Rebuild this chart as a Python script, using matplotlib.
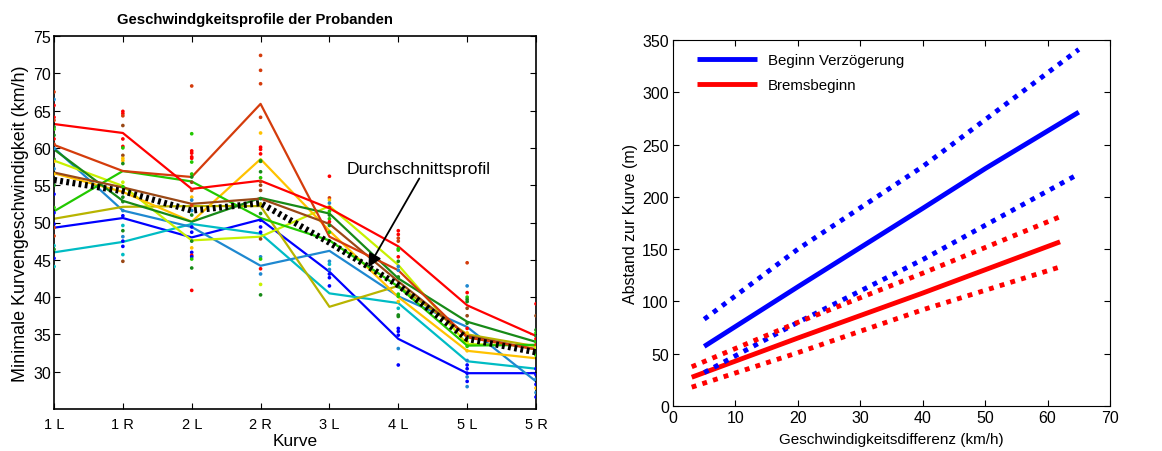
import matplotlib
matplotlib.use("Agg")
import matplotlib.pyplot as plt
import numpy as np

plt.rcParams['font.family'] = ['Liberation Sans', 'DejaVu Sans']

# ---------------- data: left chart ----------------
curves = ["1 L", "1 R", "2 L", "2 R", "3 L", "4 L", "5 L", "5 R"]

palette = {
    'R': '#ff0000', 'O': '#d43c0c', 'B': '#9a4816', 'G': '#22c800',
    'D': '#178a17', 'Y': '#c8f000', 'A': '#ffc200', 'L': '#b8b400',
    'U': '#0000ff', 'S': '#1e88d0', 'C': '#00bcc4',
}

line_R = [63.2, 62.0, 54.5, 55.6, 51.9, 46.8, 38.9, 34.8]
line_O = [60.4, 56.9, 56.1, 65.9, 48.1, 43.6, 34.6, 33.0]
line_B = [56.7, 54.7, 52.5, 53.2, 49.8, 42.1, 34.8, 33.0]
line_G = [51.5, 56.9, 55.5, 50.6, 47.6, 41.4, 33.5, 33.6]
line_D = [59.8, 52.9, 50.1, 53.3, 51.2, 42.5, 36.7, 34.0]
line_Y = [58.3, 54.9, 47.6, 48.1, 52.2, 44.3, 33.7, 33.5]
line_A = [56.6, 54.1, 50.1, 58.5, 48.9, 40.0, 32.8, 31.8]
line_L = [50.5, 52.1, 52.2, 52.2, 38.7, 41.5, 35.0, 33.4]
line_U = [49.3, 50.6, 48.0, 50.4, 43.4, 34.4, 29.8, 29.8]
line_S = [60.0, 51.6, 49.4, 44.2, 46.2, 40.1, 36.0, 28.7]
line_C = [46.0, 47.4, 49.8, 48.5, 40.5, 39.2, 31.4, 30.4]
line_avg = [55.7, 54.2, 51.6, 52.6, 47.3, 41.6, 34.4, 32.6]

lines_left = [('U', line_U), ('C', line_C), ('S', line_S), ('L', line_L),
              ('Y', line_Y), ('A', line_A), ('G', line_G), ('D', line_D),
              ('B', line_B), ('O', line_O), ('R', line_R)]

dots_1L = [(67.5,'O'),(66.5,'S'),(65.7,'R'),(64.1,'R'),(63.7,'O'),(62.8,'D'),(62.5,'G'),
           (61.7,'D'),(61.2,'R'),(60.5,'O'),(59.9,'S'),(58.5,'D'),(58.2,'A'),(57.2,'S'),
           (56.5,'A'),(55.6,'G'),(55.0,'D'),(53.8,'U'),(52.0,'G'),(51.3,'U'),(49.8,'U'),
           (49.3,'O'),(48.2,'O'),(46.9,'C'),(46.4,'D'),(45.2,'U'),(44.1,'C')]
dots_1R = [(64.9,'R'),(64.6,'R'),(64.3,'O'),(63.0,'B'),(61.2,'R'),(60.2,'R'),(60.0,'G'),
           (59.0,'B'),(58.6,'A'),(58.3,'A'),(57.9,'D'),(55.4,'Y'),(54.8,'G'),(54.1,'B'),
           (53.4,'D'),(52.8,'D'),(51.6,'S'),(50.9,'U'),(49.6,'C'),(48.9,'D'),(48.1,'S'),
           (47.5,'U'),(46.8,'U'),(45.7,'C'),(44.8,'B')]
dots_2L = [(68.3,'O'),(61.9,'G'),(59.6,'R'),(59.3,'R'),(58.8,'R'),(58.6,'R'),(58.1,'G'),
           (56.5,'G'),(56.1,'D'),(55.4,'B'),(54.3,'O'),(53.4,'A'),(53.0,'S'),(52.3,'O'),
           (51.6,'S'),(51.0,'D'),(49.8,'C'),(49.4,'U'),(48.7,'U'),(47.5,'D'),(46.6,'A'),
           (46.0,'U'),(45.6,'R'),(45.4,'U'),(45.1,'G'),(43.9,'D'),(40.9,'R')]
dots_2R = [(72.4,'O'),(70.4,'O'),(68.6,'O'),(64.1,'O'),(62.0,'A'),(60.1,'R'),(59.8,'R'),
           (59.2,'R'),(58.3,'G'),(58.2,'D'),(56.8,'D'),(56.0,'G'),(55.5,'O'),(55.0,'B'),
           (54.3,'B'),(53.2,'D'),(52.5,'L'),(51.2,'D'),(50.3,'U'),(49.4,'U'),(48.7,'U'),
           (47.8,'B'),(45.4,'S'),(45.1,'G'),(43.8,'R'),(43.1,'S'),(41.7,'Y'),(40.3,'D')]
dots_3L = [(56.2,'R'),(53.3,'O'),(53.0,'A'),(52.6,'S'),(52.0,'R'),(51.5,'G'),(51.0,'D'),
           (50.5,'G'),(50.1,'R'),(49.6,'D'),(48.7,'G'),(44.8,'S'),(44.4,'C'),(43.7,'S'),
           (43.1,'U'),(42.6,'U'),(41.5,'U')]
dots_4L = [(48.9,'R'),(48.4,'R'),(47.9,'O'),(47.5,'O'),(46.5,'G'),(46.3,'G'),(45.4,'R'),
           (44.8,'D'),(44.1,'S'),(43.6,'S'),(42.7,'D'),(41.4,'D'),(40.4,'G'),(40.1,'G'),
           (39.4,'A'),(38.5,'C'),(37.6,'D'),(37.4,'D'),(35.8,'U'),(35.4,'U'),(34.9,'U'),
           (33.1,'S'),(30.9,'U')]
dots_5L = [(44.6,'O'),(41.5,'S'),(40.6,'R'),(40.0,'G'),(39.7,'D'),(39.4,'D'),(38.5,'B'),
           (37.5,'B'),(36.5,'D'),(35.8,'R'),(35.2,'A'),(34.5,'G'),(34.0,'Y'),(33.4,'G'),
           (32.8,'A'),(31.5,'S'),(30.9,'U'),(30.4,'U'),(29.8,'U'),(29.3,'S'),(28.7,'U'),
           (28.0,'S')]
dots_5R = [(39.1,'R'),(37.5,'B'),(35.6,'D'),(35.2,'G'),(34.8,'D'),(34.4,'R'),(34.0,'G'),
           (33.6,'O'),(33.2,'Y'),(32.8,'D'),(32.2,'G'),(30.4,'U'),(29.6,'U'),(29.0,'S'),
           (28.3,'U'),(27.8,'A'),(27.2,'S'),(26.6,'U')]
dots_all = [dots_1L, dots_1R, dots_2L, dots_2R, dots_3L, dots_4L, dots_5L, dots_5R]

# ---------------- data: right chart ----------------
bv_x = [5, 20, 40, 50, 65]
bv_mid = [57, 114, 189, 227, 281]
bv_hi_x = [5, 20, 40, 65]
bv_hi = [83, 150, 229, 341]
bv_lo_x = [5, 20, 40, 65]
bv_lo = [32, 80, 140, 222]
bb_x = [3, 20, 40, 62]
bb_mid = [27.5, 65, 108, 157]
bb_hi = [37.5, 80, 127, 181]
bb_lo = [18, 51, 92, 133]

# ---------------- figure ----------------
W, H = 1162, 452
fig = plt.figure(figsize=(W / 100, H / 100), dpi=100)
ax1 = fig.add_axes([54/W, 1-410/H, 482/W, 373/H])
ax2 = fig.add_axes([673/W, 1-407/H, 437/W, 366/H])

xpos = np.arange(len(curves))
for code, vals in lines_left:
    ax1.plot(xpos, vals, color=palette[code], lw=1.6, zorder=2)
for i, dl in enumerate(dots_all):
    ys = [d[0] for d in dl]
    cs = [palette[d[1]] for d in dl]
    ax1.scatter(np.full(len(ys), xpos[i]), ys, c=cs, s=7, lw=0, zorder=3)
ax1.plot(xpos, line_avg, color='black', lw=4.5, ls=(0, (0.45, 0.55)), zorder=4)

ax1.set_xlim(0, 7)
ax1.set_ylim(25, 75)
ax1.set_xticks(xpos)
ax1.set_xticklabels(curves)
ax1.set_yticks(np.arange(30, 76, 5))
ax1.tick_params(direction='in', top=True, right=True, length=4, pad=3)
ax1.tick_params(axis='x', labelsize=10.5, pad=6)
ax1.tick_params(axis='y', labelsize=11.5, pad=2)
for sp in ax1.spines.values():
    sp.set_linewidth(1.2)
fig.text(255/W, 1-20/H, "Geschwindgkeitsprofile der Probanden", fontsize=10.7,
         fontweight='bold', ha='center', va='center')
ax1.set_xlabel("Kurve", fontsize=12.4, labelpad=1)
ax1.set_ylabel("Minimale Kurvengeschwindigkeit (km/h)", fontsize=12.9, labelpad=3)
ax1.text(4.25, 57.2, "Durchschnittsprofil", fontsize=12.6, ha='left', va='center', zorder=6)
ax1.annotate("", xy=(4.565, 44.0), xytext=(5.305, 55.9),
             arrowprops=dict(arrowstyle='-|>', color='black', lw=1.3,
                             mutation_scale=20, shrinkA=0, shrinkB=0), zorder=6)

# right chart
ax2.plot(bv_x, bv_mid, color='#0000ff', lw=3.5, solid_capstyle='butt', label='Beginn Verzögerung')
ax2.plot(bb_x, bb_mid, color='#ff0000', lw=3.5, solid_capstyle='butt', label='Bremsbeginn')
ax2.plot(bv_hi_x, bv_hi, color='#0000ff', lw=3.5, ls=(0, (1, 1.3)))
ax2.plot(bv_lo_x, bv_lo, color='#0000ff', lw=3.5, ls=(0, (1, 1.3)))
ax2.plot(bb_x, bb_hi, color='#ff0000', lw=3.5, ls=(0, (1, 1.3)))
ax2.plot(bb_x, bb_lo, color='#ff0000', lw=3.5, ls=(0, (1, 1.3)))
ax2.set_xlim(0, 70)
ax2.set_ylim(0, 350)
ax2.set_xticks(np.arange(0, 71, 10))
ax2.set_yticks(np.arange(0, 351, 50))
ax2.tick_params(direction='in', top=True, right=True, length=4, labelsize=11.5, pad=3)
ax2.set_xlabel("Geschwindigkeitsdifferenz (km/h)", fontsize=11, labelpad=5)
ax2.set_ylabel("Abstand zur Kurve (m)", fontsize=11.5, labelpad=3)
ax2.legend(loc='upper left', frameon=False, fontsize=10.8, handlelength=4.0,
           borderaxespad=0.5, labelspacing=0.7, handletextpad=0.7,
           bbox_to_anchor=(0.025, 1.0))

fig.savefig("out.png", dpi=100)
